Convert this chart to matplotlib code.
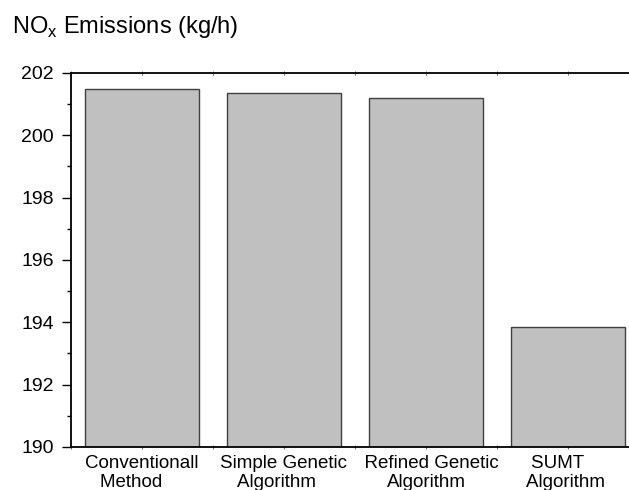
import matplotlib
matplotlib.use("Agg")
import matplotlib.pyplot as plt
from matplotlib.ticker import MultipleLocator

plt.rcParams['font.family'] = ['Liberation Sans', 'DejaVu Sans']

categories = ["Conventionall\nMethod    ", "Simple Genetic\nAlgorithm   ",
              "  Refined Genetic\nAlgorithm", "SUMT    \nAlgorithm "]
nox_emissions = [201.49, 201.35, 201.21, 193.86]
y_ticks = [190, 192, 194, 196, 198, 200, 202]

W, H = 629, 490
fig = plt.figure(figsize=(W / 100, H / 100), dpi=100)
ax = fig.add_axes([71 / W, 43 / H, 568 / W, 374 / H])

x = list(range(len(categories)))
ax.bar(x, [v - 190 for v in nox_emissions], bottom=190, width=0.8,
       color="#c0c0c0", edgecolor="#404040", linewidth=1.0, zorder=2)

ax.set_xlim(-0.5, 3.5)
ax.set_ylim(190, 202)
ax.set_yticks(y_ticks)
ax.yaxis.set_minor_locator(MultipleLocator(1))
ax.set_xticks(x)
ax.set_xticklabels(categories, fontsize=13.5, linespacing=1.15)
ax.xaxis.set_minor_locator(MultipleLocator(0.5))

ax.tick_params(axis="y", which="major", direction="out", length=6.5,
               width=1.0, labelsize=14, pad=6)
ax.tick_params(axis="y", which="minor", direction="out", length=3, width=1.0)
ax.tick_params(axis="x", which="both", direction="inout", length=3,
               width=0.6, top=True, color="#555555", pad=4)

ax.spines["right"].set_visible(False)
for side in ("left", "bottom", "top"):
    ax.spines[side].set_linewidth(1.3)

fig.text(12 / W, 1 - 33 / H, r"NO$_\mathregular{x}$ Emissions (kg/h)",
         fontsize=17, ha="left", va="baseline")

fig.savefig("out.png", dpi=100)
